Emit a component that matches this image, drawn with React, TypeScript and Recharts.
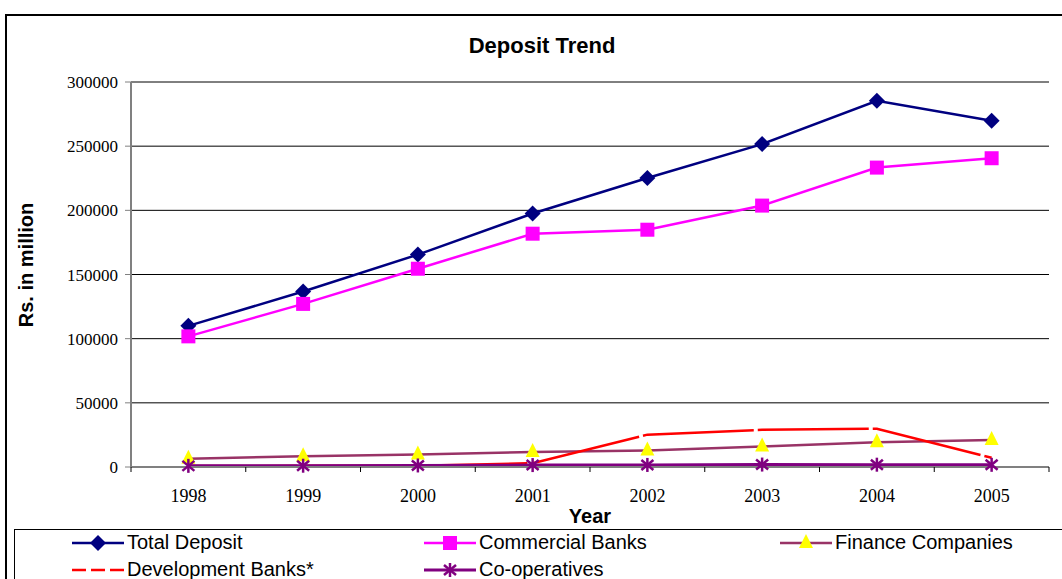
import React from 'react';
import { LineChart, Line, XAxis, YAxis, CartesianGrid } from 'recharts';

const years = ['1998', '1999', '2000', '2001', '2002', '2003', '2004', '2005'];
const totalDeposit = [110000, 136700, 165500, 197500, 225200, 251600, 285400, 269800];
const commercialBanks = [101800, 127100, 154500, 181800, 184900, 203700, 233300, 240600];
const financeCompanies = [6500, 8300, 9800, 11600, 12900, 16000, 19200, 21000];
const developmentBanks = [800, 900, 1000, 3000, 25200, 29000, 29800, 7200];
const cooperatives = [900, 1000, 1200, 1500, 1600, 1900, 1800, 1700];
const yTicks = [0, 50000, 100000, 150000, 200000, 250000, 300000];

const data = years.map((year, i) => ({
  year,
  total: totalDeposit[i],
  commercial: commercialBanks[i],
  finance: financeCompanies[i],
  development: developmentBanks[i],
  coop: cooperatives[i],
}));

const W = 1062;
const H = 579;
const PLOT_LEFT = 131;
const PLOT_RIGHT = 13;
const BAND = (W - PLOT_LEFT - PLOT_RIGHT) / years.length;
const TICK_SIZE = 5;
const TICK_MARGIN = 17;

const SANS = '"Liberation Sans", Arial, sans-serif';
const SERIF = '"Liberation Serif", "Times New Roman", serif';

type DotProps = { cx?: number; cy?: number; index?: number };

function Diamond({ cx, cy }: DotProps) {
  if (cx == null || cy == null) return null;
  return <polygon points={`${cx},${cy - 8} ${cx + 8},${cy} ${cx},${cy + 8} ${cx - 8},${cy}`} fill="#000080" />;
}

function Square({ cx, cy }: DotProps) {
  if (cx == null || cy == null) return null;
  return <rect x={cx - 7} y={cy - 7} width={14} height={14} fill="#FF00FF" />;
}

function Triangle({ cx, cy }: DotProps) {
  if (cx == null || cy == null) return null;
  return <polygon points={`${cx},${cy - 9} ${cx + 7},${cy + 5} ${cx - 7},${cy + 5}`} fill="#FFFF00" />;
}

function Asterisk({ cx, cy }: DotProps) {
  if (cx == null || cy == null) return null;
  return (
    <g stroke="#800080" strokeWidth={2.5}>
      <line x1={cx} y1={cy - 7} x2={cx} y2={cy + 7} />
      <line x1={cx - 6} y1={cy - 5} x2={cx + 6} y2={cy + 5} />
      <line x1={cx - 6} y1={cy + 5} x2={cx + 6} y2={cy - 5} />
    </g>
  );
}

const series = [
  { key: 'total', name: 'Total Deposit', color: '#000080', width: 2.5, dash: undefined, legendDash: undefined, Marker: Diamond },
  { key: 'commercial', name: 'Commercial Banks', color: '#FF00FF', width: 2.5, dash: undefined, legendDash: undefined, Marker: Square },
  { key: 'finance', name: 'Finance Companies', color: '#993366', width: 2.5, dash: undefined, legendDash: undefined, Marker: Triangle },
  { key: 'development', name: 'Development Banks*', color: '#FF0000', width: 2.5, dash: '111 4', legendDash: '14 5', Marker: null },
  { key: 'coop', name: 'Co-operatives', color: '#800080', width: 3, dash: undefined, legendDash: undefined, Marker: Asterisk },
];

function XTick(props: any) {
  const { x, y, payload, index } = props;
  const axisY = y - TICK_SIZE - TICK_MARGIN;
  return (
    <g>
      <line x1={x - BAND / 2} x2={x - BAND / 2} y1={axisY} y2={axisY + TICK_SIZE} stroke="#000" />
      {index === years.length - 1 && (
        <line x1={x + BAND / 2} x2={x + BAND / 2} y1={axisY} y2={axisY + TICK_SIZE} stroke="#000" />
      )}
      <text x={x} y={y} dy="0.71em" textAnchor="middle" fontFamily={SERIF} fontSize={18} fill="#000">
        {payload.value}
      </text>
    </g>
  );
}

const legendCols = [57, 409, 765];
const legendRows = [13, 40];

function LegendIcon({ s }: { s: (typeof series)[number] }) {
  const M = s.Marker;
  return (
    <svg width={52} height={20} style={{ position: 'absolute', left: 0, top: -10 }}>
      <line x1={0} y1={10} x2={52} y2={10} stroke={s.color} strokeWidth={s.width} strokeDasharray={s.legendDash} />
      {M && <M cx={26} cy={10} />}
    </svg>
  );
}

export default function App() {
  return (
    <div style={{ position: 'absolute', left: 0, top: 0, width: W, height: H, overflow: 'hidden', background: '#fff' }}>
      <div style={{ position: 'absolute', left: 0, top: 0 }}>
        <LineChart width={W} height={H} data={data} margin={{ top: 82, right: PLOT_RIGHT, bottom: 0, left: 0 }}>
          <CartesianGrid horizontal vertical={false} stroke="#000" strokeWidth={1} />
          <XAxis
            dataKey="year"
            height={112}
            interval={0}
            padding={{ left: BAND / 2, right: BAND / 2 }}
            tickSize={TICK_SIZE}
            tickMargin={TICK_MARGIN}
            tickLine={false}
            axisLine={{ stroke: '#808080', strokeWidth: 2 }}
            tick={<XTick />}
            label={{ value: 'Year', position: 'insideBottom', offset: 56, fontFamily: SANS, fontWeight: 'bold', fontSize: 20, fill: '#000' }}
          />
          <YAxis
            width={PLOT_LEFT}
            domain={[0, 300000]}
            ticks={yTicks}
            interval={0}
            tickSize={6}
            tickMargin={7}
            axisLine={{ stroke: '#808080', strokeWidth: 2 }}
            tickLine={{ stroke: '#808080' }}
            tick={{ fontFamily: SERIF, fontSize: 17, fill: '#000' }}
            label={{
              content: () => (
                <text x={26} y={265} transform="rotate(-90 26 265)" textAnchor="middle" dominantBaseline="central"
                  fontFamily={SANS} fontWeight="bold" fontSize={20} fill="#000">
                  Rs. in million
                </text>
              ),
            }}
          />
          {series.map((s) => (
            <Line
              key={s.key}
              dataKey={s.key}
              name={s.name}
              type="linear"
              stroke={s.color}
              strokeWidth={s.width}
              strokeDasharray={s.dash}
              strokeDashoffset={s.dash ? 2 : undefined}
              isAnimationActive={false}
              dot={s.Marker ? (p: any) => { const M = s.Marker!; return <M key={`${s.key}-${p.index}`} cx={p.cx} cy={p.cy} />; } : false}
              activeDot={false}
            />
          ))}
        </LineChart>
      </div>
      <svg width={W} height={H} style={{ position: 'absolute', left: 0, top: 0, pointerEvents: 'none' }}>
        <text x={542} y={53} textAnchor="middle" fontFamily={SANS} fontWeight="bold" fontSize={22} fill="#000">
          Deposit Trend
        </text>
      </svg>
      <div style={{ position: 'absolute', left: 5, top: 14, width: 2, height: H, background: '#000' }} />
      <div style={{ position: 'absolute', left: 5, top: 14, width: W, height: 2, background: '#000' }} />
      <div style={{ position: 'absolute', left: 14, top: 529, width: 1100, height: 200, border: '1px solid #000', boxSizing: 'border-box', background: '#fff' }}>
        {series.map((s, i) => (
          <div key={s.key} style={{ position: 'absolute', left: legendCols[i % 3], top: legendRows[Math.floor(i / 3)] }}>
            <LegendIcon s={s} />
            <span style={{ position: 'absolute', left: 55, top: -12, whiteSpace: 'nowrap', fontFamily: SANS, fontSize: 20, lineHeight: '23px', color: '#000' }}>
              {s.name}
            </span>
          </div>
        ))}
      </div>
    </div>
  );
}
